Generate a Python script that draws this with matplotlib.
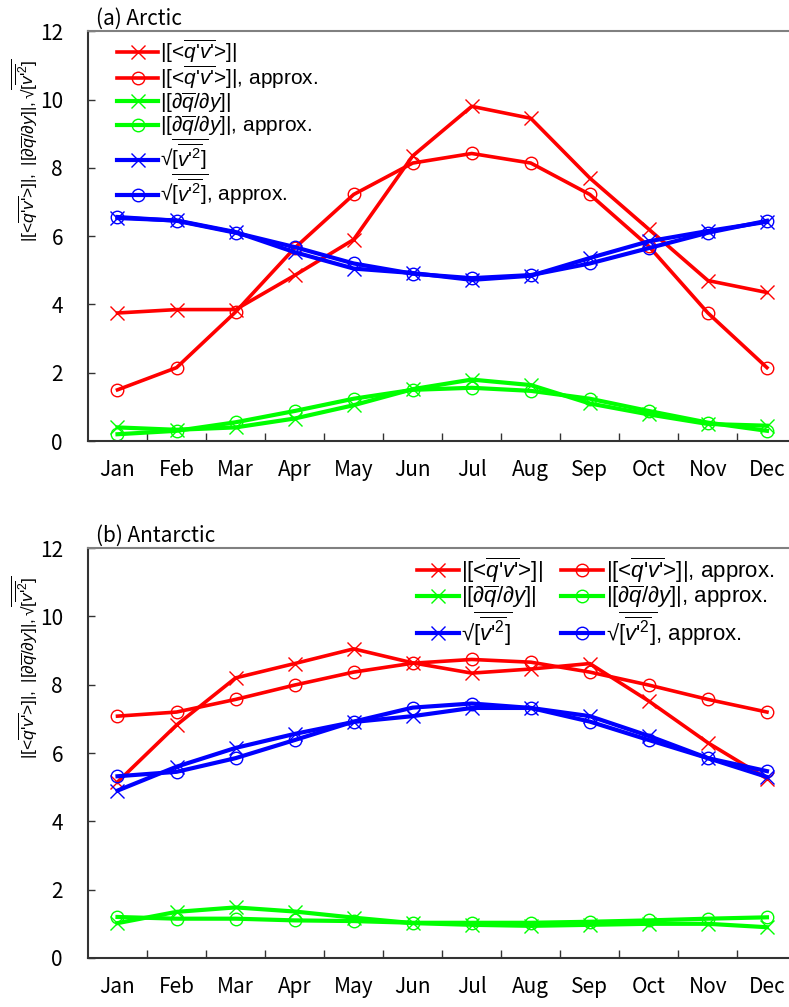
import matplotlib as mpl
mpl.use('Agg')
import matplotlib.pyplot as plt
import numpy as np

plt.rcParams['font.family'] = ['Noto Sans CJK JP', 'DejaVu Sans']
plt.rcParams['mathtext.fontset'] = 'custom'
plt.rcParams['mathtext.rm'] = 'Liberation Sans'
plt.rcParams['mathtext.it'] = 'Liberation Sans:italic'
plt.rcParams['mathtext.sf'] = 'Liberation Sans'

months = ['Jan', 'Feb', 'Mar', 'Apr', 'May', 'Jun',
          'Jul', 'Aug', 'Sep', 'Oct', 'Nov', 'Dec']

# (a) Arctic
arc_flux = [3.75, 3.85, 3.85, 4.85, 5.9, 8.35, 9.8, 9.45, 7.7, 6.2, 4.7, 4.35]
arc_flux_ap = [1.5, 2.15, 3.78, 5.65, 7.22, 8.14, 8.42, 8.14, 7.22, 5.7, 3.75, 2.15]
arc_grad = [0.4, 0.33, 0.4, 0.66, 1.05, 1.52, 1.8, 1.64, 1.1, 0.78, 0.5, 0.45]
arc_grad_ap = [0.2, 0.3, 0.55, 0.88, 1.24, 1.5, 1.56, 1.47, 1.24, 0.88, 0.54, 0.3]
arc_v = [6.53, 6.46, 6.12, 5.53, 5.05, 4.92, 4.72, 4.84, 5.36, 5.85, 6.15, 6.42]
arc_v_ap = [6.56, 6.45, 6.1, 5.68, 5.2, 4.9, 4.77, 4.86, 5.2, 5.65, 6.1, 6.45]

# (b) Antarctic
ant_flux = [5.15, 6.82, 8.2, 8.62, 9.05, 8.64, 8.34, 8.46, 8.62, 7.52, 6.3, 5.25]
ant_flux_ap = [7.08, 7.2, 7.57, 7.99, 8.37, 8.63, 8.74, 8.66, 8.37, 7.99, 7.57, 7.2]
ant_grad = [1.02, 1.35, 1.48, 1.36, 1.18, 1.02, 0.97, 0.94, 0.97, 1.0, 1.0, 0.9]
ant_grad_ap = [1.2, 1.15, 1.15, 1.1, 1.08, 1.03, 1.03, 1.03, 1.06, 1.1, 1.15, 1.19]
ant_v = [4.9, 5.6, 6.15, 6.56, 6.91, 7.08, 7.32, 7.32, 7.08, 6.5, 5.85, 5.3]
ant_v_ap = [5.32, 5.45, 5.85, 6.38, 6.92, 7.33, 7.45, 7.32, 6.92, 6.38, 5.85, 5.47]

lab_flux = r"$|[\text{<}\overline{q\text{'}v\text{'}}\text{>}]|$"
lab_grad = r"$|[\partial\overline{q}/\partial y]|$"
lab_v = r"$\text{√}\overline{[\overline{v\text{'}^2}]}$"
ylab = (r"$|[\text{<}\overline{q\text{'}v\text{'}}\text{>}]|,\ |[\partial\overline{q}/\partial y]|,"
        r"\text{√}\overline{[\overline{v\text{'}^2}]}$")

x = np.arange(1, 13)

fig = plt.figure(figsize=(7.89, 10.07), dpi=100)
ax1 = fig.add_axes([0.1115, 0.562, 0.898, 0.407])
ax2 = fig.add_axes([0.1115, 0.0487, 0.898, 0.407])


def draw(ax, flux, flux_ap, grad, grad_ap, v, v_ap):
    kx = dict(marker='x', markersize=10, markeredgewidth=1.0)
    ko = dict(marker='o', markersize=9, markerfacecolor='none', markeredgewidth=1.0)
    h = []
    h += ax.plot(x, flux, color='#ff0000', lw=2.6, label=lab_flux, **kx)
    h += ax.plot(x, flux_ap, color='#ff0000', lw=2.6, label=lab_flux + ', approx.', **ko)
    h += ax.plot(x, grad, color='#00ff00', lw=3.0, label=lab_grad, **kx)
    h += ax.plot(x, grad_ap, color='#00ff00', lw=3.0, label=lab_grad + ', approx.', **ko)
    h += ax.plot(x, v, color='#0000ff', lw=3.0, label=lab_v, **kx)
    h += ax.plot(x, v_ap, color='#0000ff', lw=3.0, label=lab_v + ', approx.', **ko)

    ax.set_xlim(0.5, 12.5)
    ax.set_ylim(0, 12)
    ax.set_xticks(x)
    ax.set_xticklabels(months)
    ax.set_xticks(np.arange(1.5, 12.0, 1.0), minor=True)
    ax.set_yticks(np.arange(0, 13, 2))
    ax.tick_params(axis='x', which='major', length=0, pad=13, labelsize=15)
    ax.tick_params(axis='x', which='minor', direction='in', length=6, width=1.0, color='#333333')
    ax.tick_params(axis='y', direction='in', length=5, width=1.0, color='#333333', pad=18, labelsize=15)
    for s in ['left', 'bottom']:
        ax.spines[s].set_color('#333333')
        ax.spines[s].set_linewidth(1.5)
    ax.spines['top'].set_color('#808080')
    ax.spines['top'].set_linewidth(1.5)
    ax.spines['right'].set_visible(False)
    ax.set_ylabel(ylab, fontsize=12.5)
    ax.yaxis.set_label_coords(-0.068, 0.71)
    return h


h1 = draw(ax1, arc_flux, arc_flux_ap, arc_grad, arc_grad_ap, arc_v, arc_v_ap)
h2 = draw(ax2, ant_flux, ant_flux_ap, ant_grad, ant_grad_ap, ant_v, ant_v_ap)

ax1.legend(handles=h1, loc='upper left', bbox_to_anchor=(0.02, 1.02), frameon=False,
           prop={'family': ['Liberation Sans'], 'size': 15}, handlelength=2.0,
           handletextpad=0.1, labelspacing=-0.05, borderpad=0.2)
order = [0, 2, 4, 1, 3, 5]
ax2.legend(handles=[h2[i] for i in order], loc='upper right', bbox_to_anchor=(0.99, 1.02),
           ncol=2, frameon=False, prop={'family': ['Liberation Sans'], 'size': 16},
           handlelength=1.9, handletextpad=0.1, labelspacing=-0.05,
           columnspacing=0.8, borderpad=0.2)

ax1.text(0.012, 1.004, '(a) Arctic', transform=ax1.transAxes, fontsize=15,
         ha='left', va='bottom')
ax2.text(0.012, 1.004, '(b) Antarctic', transform=ax2.transAxes, fontsize=15,
         ha='left', va='bottom')

fig.savefig('out.png', dpi=100)
